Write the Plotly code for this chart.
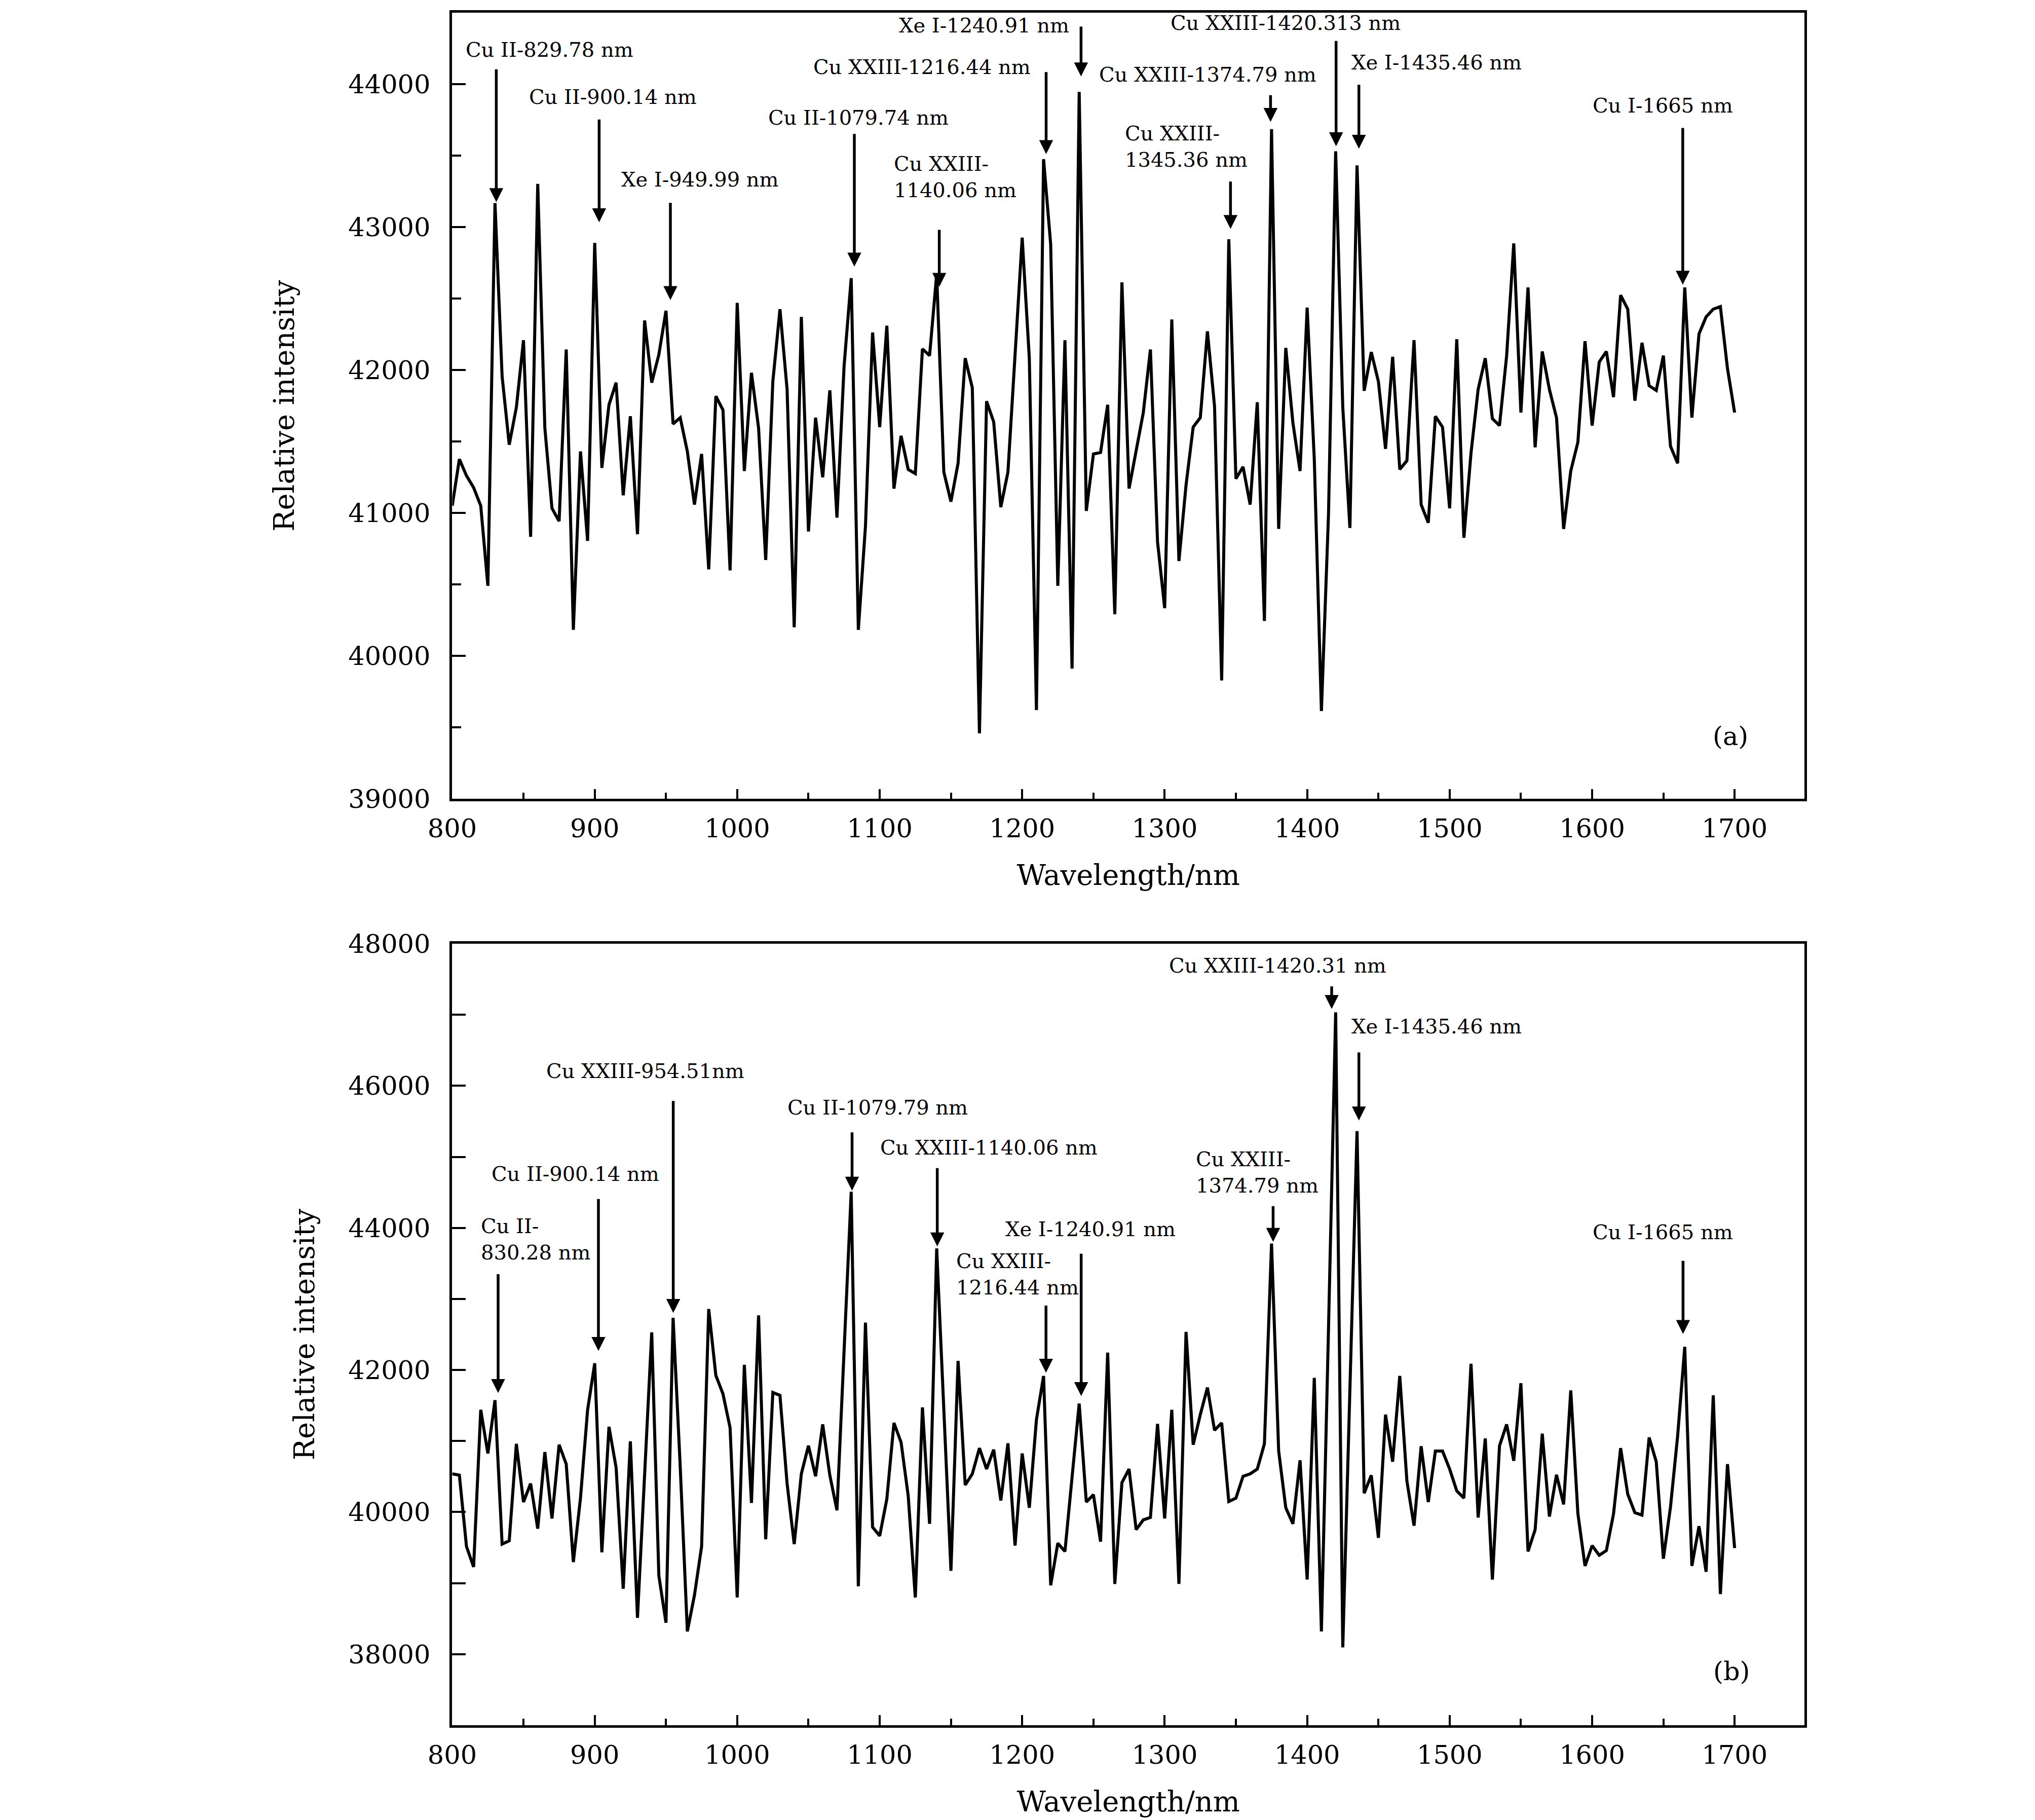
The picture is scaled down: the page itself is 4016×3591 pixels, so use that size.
import plotly.graph_objects as go

# ---------------- data ----------------
WL_START = 800
WL_STEP = 5

intensity_a = [
    41051, 41377, 41261, 41178, 41051, 40491, 43168, 41956, 41478, 41739,
    42209, 40834, 43302, 41594, 41033, 40943, 42144, 40183, 41431, 40805,
    42889, 41316, 41757, 41912, 41124, 41677, 40852, 42347, 41912, 42108,
    42415, 41623, 41667, 41431, 41059, 41413, 40606, 41818, 41721, 40599,
    42470, 41294, 41981, 41594, 40672, 41920, 42426, 41865, 40201, 42372,
    40871, 41667, 41250, 41858, 40968, 42028, 42643, 40183, 40907, 42263,
    41601, 42310, 41171, 41540, 41305, 41276, 42148, 42101, 42672, 41287,
    41080, 41348, 42083, 41876, 39459, 41782, 41638, 41041, 41287, 42101,
    42926, 42083, 39622, 43475, 42878, 40491, 42209, 39912, 43946, 41015,
    41413, 41424, 41757, 40292, 42614, 41171, 41431, 41703, 42144, 40798,
    40335, 42354, 40664, 41196, 41601, 41667, 42271, 41746, 39829, 42915,
    41240, 41323, 41059, 41775, 40245, 43685, 40889, 42155, 41630, 41294,
    42437, 41377, 39615, 40997, 43530, 41739, 40896, 43432, 41855, 42126,
    41920, 41449, 42093, 41305, 41366, 42209, 41059, 40932, 41677, 41601,
    41033, 42216, 40827, 41420, 41865, 42083, 41660, 41612, 42101, 42886,
    41703, 42578, 41460, 42130, 41865, 41667, 40889, 41294, 41496, 42202,
    41612, 42057, 42130, 41811, 42524, 42426, 41786, 42191, 41891, 41858,
    42101, 41467, 41348, 42578, 41667, 42253, 42372, 42426, 42444, 42010,
    41703,
]

intensity_b = [
    40538, 40520, 39515, 39228, 41439, 40825, 41575, 39549, 39597, 40961,
    40142, 40402, 39767, 40845, 39910, 40948, 40675, 39296, 40197, 41439,
    42094, 39433, 41200, 40627, 38921, 40995, 38512, 40484, 42530, 39105,
    38443, 42735, 40640, 38321, 38832, 39515, 42858, 41923, 41664, 41186,
    38798, 42073, 40129, 42769, 39617, 41684, 41643, 40402, 39549, 40538,
    40934, 40504, 41234, 40518, 40026, 42270, 44509, 38955, 42667, 39788,
    39665, 40183, 41255, 40982, 40231, 38798, 41473, 39835, 43711, 41446,
    39174, 42128, 40381, 40538, 40900, 40606, 40879, 40163, 40968, 39528,
    40825, 40061, 41302, 41916, 38969, 39562, 39446, 40490, 41527, 40142,
    40245, 39583, 42244, 38989, 40415, 40606, 39753, 39890, 39924, 41241,
    39910, 41439, 38989, 42537, 40948, 41371, 41753, 41152, 41255, 40149,
    40197, 40504, 40538, 40606, 40961, 43779, 40859, 40061, 39835, 40729,
    39051, 41889, 38321, 42600, 47034, 38096, 41700, 45362, 40265, 40518,
    39638, 41371, 40709, 41916, 40436, 39808, 40927, 40142, 40859, 40859,
    40606, 40299, 40197, 42087, 39924, 41036, 39051, 40934, 41234, 40722,
    41814, 39446, 39753, 41104, 39938, 40525, 40108, 41712, 39979, 39242,
    39528, 39392, 39460, 39972, 40900, 40252, 39992, 39958, 41050, 40709,
    39344, 40074, 41070, 42326, 39242, 39801, 39160, 41643, 38846, 40675,
    39494,
]

wavelength = [WL_START + WL_STEP * i for i in range(len(intensity_a))]

# annotations, panel (a)
labels_a = ["Cu II-829.78 nm", "Cu II-900.14 nm", "Xe I-949.99 nm", "Cu II-1079.74 nm",
            "Cu XXIII-<br>1140.06 nm", "Cu XXIII-1216.44 nm", "Xe I-1240.91 nm",
            "Cu XXIII-<br>1345.36 nm", "Cu XXIII-1374.79 nm", "Cu XXIII-1420.313 nm",
            "Xe I-1435.46 nm", "Cu I-1665 nm"]
arrow_x_a = [830.9, 903.1, 953.1, 1082.2, 1141.8, 1216.8, 1241.3, 1346.2, 1374.3, 1420.3, 1436.3, 1663.6]
arrow_tip_a = [43175, 43034, 42490, 42724, 42582, 43511, 44054, 42987, 43736, 43566, 43548, 42597]
arrow_tail_a = [44109, 43758, 43175, 43657, 42986, 44090, 44408, 43324, 43928, 44308, 44001, 43699]
text_x_a = [808.7, 853.2, 917.8, 1021.0, 1109.2, 1052.6, 1112.7, 1271.3, 1253.2, 1303.3, 1430.2, 1599.8]
text_y_a = [44208, 43880, 43303, 43735, 43320, 44090, 44380, 43531, 44036, 44397, 44119, 43820]

# annotations, panel (b)
labels_b = ["Cu II-<br>830.28 nm", "Cu II-900.14 nm", "Cu XXIII-954.51nm", "Cu II-1079.79 nm",
            "Cu XXIII-1140.06 nm", "Cu XXIII-<br>1216.44 nm", "Xe I-1240.91 nm",
            "Cu XXIII-<br>1374.79 nm", "Cu XXIII-1420.31 nm", "Xe I-1435.46 nm", "Cu I-1665 nm"]
arrow_x_b = [832.2, 902.6, 955.1, 1080.6, 1140.4, 1216.7, 1241.4, 1376.1, 1417.2, 1436.3, 1663.8]
arrow_tip_b = [41676, 42268, 42804, 44524, 43739, 41961, 41633, 43803, 47082, 45512, 42507]
arrow_tail_b = [43360, 44417, 45798, 45355, 44852, 42918, 43646, 44317, 47410, 46481, 43546]
text_x_b = [819.5, 826.7, 865.2, 1034.5, 1099.6, 1152.9, 1187.4, 1321.3, 1302.2, 1430.2, 1599.8]
text_y_b = [43776, 44695, 46146, 45630, 45066, 43286, 43921, 44719, 47629, 46774, 43874]

panel_tags = ["(a)", "(b)"]
tag_x = [1697, 1697.8]
tag_y = [39406, 37693]

# ---------------- figure ----------------
FONT = "DejaVu Serif"
fig = go.Figure()
fig.add_trace(go.Scatter(x=wavelength, y=intensity_a, mode="lines",
                         line=dict(color="black", width=6), xaxis="x", yaxis="y",
                         showlegend=False))
fig.add_trace(go.Scatter(x=wavelength, y=intensity_b, mode="lines",
                         line=dict(color="black", width=6), xaxis="x2", yaxis="y2",
                         showlegend=False))

def axis_common():
    return dict(showline=True, linecolor="black", linewidth=4.5, mirror=True,
                ticks="inside", tickcolor="black", tickwidth=4,
                showgrid=False, zeroline=False, automargin=False,
                tickfont=dict(family=FONT, size=51, color="black"))

xdom = [0.22024, 0.88471]
for name, anchor in (("xaxis", "y"), ("xaxis2", "y2")):
    ax = axis_common()
    ax.update(domain=xdom, range=[800, 1749], anchor=anchor, tick0=800, dtick=100,
              ticklen=20, ticklabelstandoff=10,
              minor=dict(ticks="inside", tick0=800, dtick=50, ticklen=13, tickwidth=4,
                         tickcolor="black", showgrid=False),
              title=dict(text="Wavelength/nm", font=dict(family=FONT, size=56, color="black"),
                         standoff=45))
    fig.layout[name] = ax

ya = axis_common()
ya.update(domain=[0.56324, 0.99527], range=[39000, 44500], anchor="x", tick0=39000, dtick=1000,
          ticklen=27, tickformat="d", ticklabelstandoff=28,
          minor=dict(ticks="inside", tick0=39000, dtick=500, ticklen=18, tickwidth=4,
                     tickcolor="black", showgrid=False),
          title=dict(text="Relative intensity", font=dict(family=FONT, size=56, color="black"),
                     standoff=90))
fig.layout["yaxis"] = ya

yb = axis_common()
yb.update(domain=[0.0543, 0.48371], range=[37000, 48000], anchor="x2", tick0=38000, dtick=2000,
          ticklen=27, tickformat="d", ticklabelstandoff=28,
          minor=dict(ticks="inside", tick0=37000, dtick=1000, ticklen=27, tickwidth=4,
                     tickcolor="black", showgrid=False),
          title=dict(text="Relative intensity", font=dict(family=FONT, size=56, color="black"),
                     standoff=50))
fig.layout["yaxis2"] = yb

annotations = []
panels = [
    ("x", "y", labels_a, arrow_x_a, arrow_tip_a, arrow_tail_a, text_x_a, text_y_a),
    ("x2", "y2", labels_b, arrow_x_b, arrow_tip_b, arrow_tail_b, text_x_b, text_y_b),
]
for xr, yr, labs, axx, tip, tail, tx, ty in panels:
    for i, lab in enumerate(labs):
        annotations.append(dict(x=axx[i], y=tip[i], ax=axx[i], ay=tail[i], xref=xr, yref=yr,
                                axref=xr, ayref=yr, text="", showarrow=True, arrowhead=2,
                                arrowsize=1, arrowwidth=5.5, arrowcolor="black", standoff=0))
        annotations.append(dict(x=tx[i], y=ty[i], xref=xr, yref=yr, text=lab, showarrow=False,
                                xanchor="left", yanchor="middle", align="left", yshift=9,
                                font=dict(family=FONT, size=40, color="black")))
for k, (xr, yr) in enumerate((("x", "y"), ("x2", "y2"))):
    annotations.append(dict(x=tag_x[k], y=tag_y[k], xref=xr, yref=yr, text=panel_tags[k],
                            showarrow=False, xanchor="center", yanchor="middle", yshift=9,
                            font=dict(family=FONT, size=51, color="black")))

fig.update_layout(width=4016, height=3591,
                  margin=dict(l=0, r=0, t=0, b=0, pad=0, autoexpand=False),
                  paper_bgcolor="white", plot_bgcolor="white",
                  annotations=annotations, showlegend=False)

fig.write_html("out.html")
